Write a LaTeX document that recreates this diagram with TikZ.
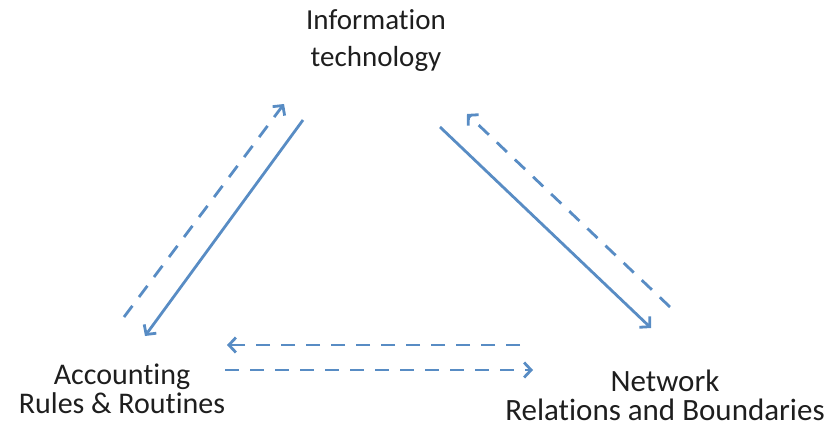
\documentclass[tikz,border=0pt]{standalone}
\usepackage{fontspec}
\setmainfont{Carlito}[Ligatures=NoCommon]
\usetikzlibrary{arrows.meta}
\definecolor{linkblue}{RGB}{88,140,196}
\definecolor{labelgray}{RGB}{30,30,30}
\begin{document}
\begin{tikzpicture}[x=1pt,y=-1pt,
        link/.style={linkblue,line width=2.8pt,-{Straight Barb[length=7pt,width=15pt,line width=2.8pt]}},
        dashlink/.style={link,dash pattern=on 14pt off 11pt},
        label/.style={text=labelgray,align=center,inner sep=0pt}]
    \useasboundingbox (0,0) rectangle (833,428);
    % labels
    \node[label,font=\fontsize{29}{37}\selectfont] (it) at (376,41) {Information\\technology};
    \node[label,font=\fontsize{30}{29}\selectfont] (acc) at (122,389) {Accounting\\Rules \& Routines};
    \node[label,font=\fontsize{31}{29}\selectfont] (net) at (665,395) {Network\\Relations and Boundaries};
    % arrow ends
    \coordinate (it-l1) at (303,120);
    \coordinate (it-l2) at (284,104);
    \coordinate (it-r1) at (440,127);
    \coordinate (it-r2) at (467,114);
    \coordinate (acc-t1) at (145,336);
    \coordinate (acc-t2) at (124,317);
    \coordinate (acc-r1) at (227,345);
    \coordinate (acc-r2) at (225,370);
    \coordinate (net-t1) at (651,328);
    \coordinate (net-t2) at (670,307);
    \coordinate (net-l1) at (520,345);
    \coordinate (net-l2) at (533,370);
    % arrows
    \draw[link] (it-l1) -- (acc-t1);
    \draw[dashlink] (acc-t2) -- (it-l2);
    \draw[link] (it-r1) -- (net-t1);
    \draw[dashlink] (net-t2) -- (it-r2);
    \draw[dashlink] (net-l1) -- (acc-r1);
    \draw[dashlink] (acc-r2) -- (net-l2);
\end{tikzpicture}
\end{document}
